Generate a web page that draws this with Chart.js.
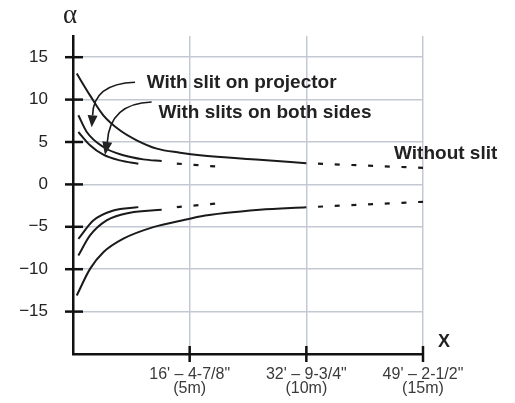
<!DOCTYPE html>
<html>
<head>
<meta charset="utf-8">
<script src="https://cdn.jsdelivr.net/npm/chart.js@4/dist/chart.umd.min.js"></script>
<style>
  body { margin: 0; background: #fff; }
</style>
</head>
<body>
<canvas id="alphaChart" width="515" height="403"></canvas>
<script>
// x axis: distance in metres
const xTicks = [5, 10, 15];
const xTickLabels = [
  ["16' \u2013 4-7/8\"", "(5m)"],
  ["32' \u2013 9-3/4\"", "(10m)"],
  ["49' \u2013 2-1/2\"", "(15m)"]
];
const yTicks = [-15, -10, -5, 0, 5, 10, 15];

// Without slit (solid part, then dashed)
const noSlitX = [0.16, 0.73, 1.30, 2.01, 2.73, 3.59, 4.59, 5.44, 8, 10];
const noSlitUp = [13.07, 10.5, 8.15, 6.38, 5.2, 4.22, 3.74, 3.43, 2.9, 2.5];
const noSlitLowX = [0.16, 0.73, 1.30, 2.16, 3.44, 5, 5.44, 8, 10];
const noSlitLow = [-13.1, -9.96, -8.0, -6.4, -5.04, -4.05, -3.78, -3.0, -2.7];
const noSlitDashX = [10, 15];
const noSlitDashUp = [2.5, 1.95];
const noSlitDashLow = [-2.7, -2.05];

// With slit on projector
const projX = [0.23, 0.59, 1.30, 2.16, 3.01, 3.80];
const projUp = [8.15, 6.18, 4.41, 3.43, 2.95, 2.75];
const projLowX = [0.23, 0.73, 1.44, 2.44, 3.80];
const projLow = [-8.39, -6.02, -4.25, -3.35, -2.99];
const projDashX = [4.45, 6.2];
const projDashUp = [2.45, 2.1];
const projDashLow = [-2.68, -2.25];

// With slits on both sides
const bothX = [0.23, 0.73, 1.30, 2.01, 2.80];
const bothUp = [6.18, 4.61, 3.5, 2.83, 2.44];
const bothLowX = [0.23, 0.87, 1.73, 2.80];
const bothLow = [-6.42, -4.25, -3.07, -2.68];

const pts = (xs, ys) => xs.map((x, i) => ({ x: x, y: ys[i] }));

function solid(xs, ys) {
  return {
    data: pts(xs, ys),
    borderColor: '#1a1a1a',
    borderWidth: 2,
    pointRadius: 0,
    cubicInterpolationMode: 'monotone',
    fill: false
  };
}
function dashed(xs, ys, offset) {
  return {
    data: pts(xs, ys),
    borderColor: '#1a1a1a',
    borderWidth: 2.2,
    borderDash: [5, 11.7],
    borderDashOffset: offset || 0,
    pointRadius: 0,
    fill: false
  };
}

// annotations in data units
const notes = [
  { text: 'With slit on projector', x: 3.16, y: 11.34 },
  { text: 'With slits on both sides', x: 3.66, y: 7.88 },
  { text: 'Without slit', x: 13.76, y: 2.95 }
];
const arrows = [
  { from: [2.66, 12.05], ctrl: [0.86, 11.88], base: [0.84, 8.14], tip: [0.80, 6.75] },
  { from: [3.37, 9.72], ctrl: [1.58, 9.56], base: [1.47, 5.0], tip: [1.37, 3.43] }
];

const decor = {
  id: 'decor',
  afterDraw(chart) {
    const c = chart.ctx;
    const xs = chart.scales.x, ys = chart.scales.y;
    const a = chart.chartArea;
    c.save();
    // tick crosses on axes
    c.strokeStyle = '#111';
    c.lineWidth = 2.5;
    yTicks.forEach(v => {
      const p = ys.getPixelForValue(v);
      c.beginPath(); c.moveTo(a.left - 8, p); c.lineTo(a.left + 10, p); c.stroke();
    });
    xTicks.forEach(v => {
      const p = xs.getPixelForValue(v);
      c.beginPath(); c.moveTo(p, a.bottom - 8); c.lineTo(p, a.bottom + 8); c.stroke();
    });
    // axis names
    c.fillStyle = '#222';
    c.font = '27px "Liberation Serif"';
    c.textBaseline = 'alphabetic';
    c.textAlign = 'left';
    c.fillText('\u03b1', a.left - 10, a.top - 13);
    c.font = 'bold 18px "Liberation Sans"';
    c.fillText('X', a.right + 15, a.bottom - 7);
    // annotation texts
    c.font = 'bold 19px "Liberation Sans"';
    notes.forEach(n => {
      c.fillText(n.text, xs.getPixelForValue(n.x), ys.getPixelForValue(n.y));
    });
    // arrows
    const P = q => [xs.getPixelForValue(q[0]), ys.getPixelForValue(q[1])];
    c.lineWidth = 1.6;
    c.strokeStyle = '#1a1a1a';
    arrows.forEach(r => {
      const f = P(r.from), k = P(r.ctrl), b = P(r.base), t = P(r.tip);
      c.beginPath();
      c.moveTo(f[0], f[1]);
      c.quadraticCurveTo(k[0], k[1], b[0], b[1]);
      c.stroke();
      const ang = Math.atan2(t[1] - b[1], t[0] - b[0]);
      const len = Math.hypot(t[0] - b[0], t[1] - b[1]);
      const w = 5;
      const bx = t[0] - Math.cos(ang) * len, by = t[1] - Math.sin(ang) * len;
      c.beginPath();
      c.moveTo(t[0], t[1]);
      c.lineTo(bx + Math.sin(ang) * w, by - Math.cos(ang) * w);
      c.lineTo(bx - Math.sin(ang) * w, by + Math.cos(ang) * w);
      c.closePath();
      c.fill();
    });
    c.restore();
  }
};

const gridColor = '#c3c9d2';

new Chart(document.getElementById('alphaChart'), {
  type: 'line',
  data: {
    datasets: [
      solid(noSlitX, noSlitUp),
      solid(noSlitLowX, noSlitLow),
      dashed(noSlitDashX, noSlitDashUp, 5),
      dashed(noSlitDashX, noSlitDashLow, 5),
      solid(projX, projUp),
      solid(projLowX, projLow),
      dashed(projDashX, projDashUp),
      dashed(projDashX, projDashLow),
      solid(bothX, bothUp),
      solid(bothLowX, bothLow)
    ]
  },
  options: {
    responsive: false,
    animation: false,
    layout: { padding: { top: 36, right: 92, left: 0, bottom: 0 } },
    plugins: { legend: { display: false }, tooltip: { enabled: false } },
    scales: {
      x: {
        type: 'linear',
        min: 0,
        max: 15,
        afterFit: s => { s.height = 49; },
        afterBuildTicks: s => { s.ticks = xTicks.map(v => ({ value: v })); },
        grid: { color: gridColor, lineWidth: 1.5, drawTicks: false },
        border: { color: '#111', width: 2.5 },
        ticks: {
          padding: 13,
          color: '#3a3a3a',
          font: { family: 'Liberation Sans', size: 16, lineHeight: 0.92 },
          maxRotation: 0,
          callback: v => xTickLabels[xTicks.indexOf(v)]
        }
      },
      y: {
        min: -20,
        max: 17.5,
        afterFit: s => { s.width = 73; },
        afterBuildTicks: s => { s.ticks = yTicks.map(v => ({ value: v })); },
        grid: { color: gridColor, lineWidth: 1.5, drawTicks: false },
        border: { color: '#111', width: 2.5 },
        ticks: {
          padding: 25,
          color: '#222',
          font: { family: 'Liberation Sans', size: 17 },
          callback: v => v < 0 ? '\u2212' + (-v) : '' + v
        }
      }
    }
  },
  plugins: [decor]
});
</script>
</body>
</html>
